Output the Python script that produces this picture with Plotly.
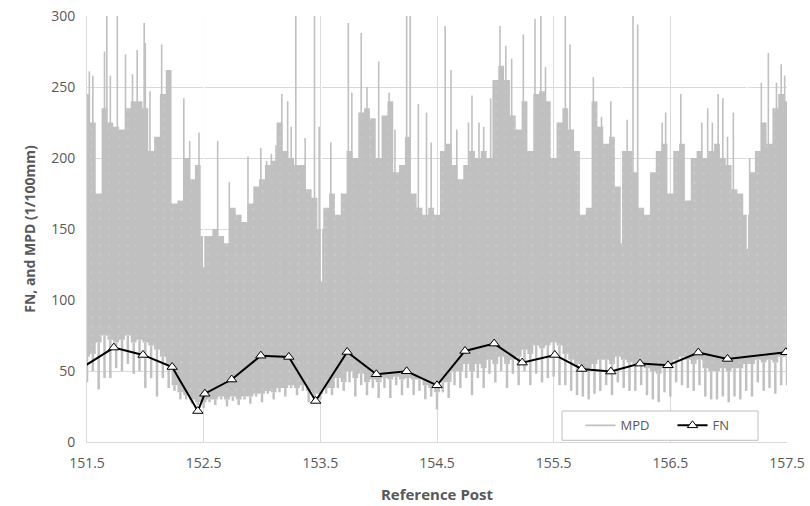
import numpy as np
import plotly.graph_objects as go

# Friction number (FN) readings along the route
FN_POST = [151.45, 151.73, 151.98, 152.23, 152.45, 152.51, 152.74, 152.99, 153.23, 153.46,
           153.73, 153.98, 154.24, 154.50, 154.74, 154.99, 155.23, 155.51, 155.74, 155.99,
           156.24, 156.48, 156.74, 156.99, 157.49]
FN_VALUE = [52, 66.5, 61.3, 52.8, 21.8, 34, 44, 60.8, 59.9, 28.9,
            63.4, 47.7, 49.8, 39.9, 64.1, 69.3, 55.9, 61.3, 51.4, 49.6,
            55.2, 54, 63, 58.5, 63.2]

# MPD profile summarised every 0.05 of a post
MPD_STEP = 0.05
# upper edge of the dense trace
MPD_TOP = [
    245, 225, 175, 235, 225, 222, 220, 235, 240, 240,
    235, 205, 215, 245, 262, 168, 170, 200, 185, 195,
    145, 145, 150, 145, 140, 165, 160, 155, 168, 180,
    185, 195, 198, 225, 205, 200, 195, 195, 178, 172,
    150, 165, 175, 160, 175, 205, 200, 232, 235, 228,
    200, 230, 240, 190, 195, 215, 175, 165, 160, 165,
    160, 205, 210, 195, 185, 195, 205, 200, 205, 200,
    255, 265, 255, 230, 220, 240, 205, 245, 247, 240,
    200, 225, 235, 220, 205, 160, 165, 240, 222, 210,
    215, 180, 205, 205, 190, 165, 160, 190, 205, 210,
    175, 205, 210, 170, 200, 205, 200, 205, 210, 200,
    195, 178, 175, 160, 190, 205, 225, 210, 235, 245,
    240,
]
# lower edge of the solid part of the trace
MPD_FLOOR = [
    60, 62, 70, 75, 72, 70, 72, 75, 70, 72,
    70, 68, 65, 60, 55, 40, 35, 33, 30, 28,
    28, 30, 30, 32, 30, 32, 30, 32, 32, 34,
    34, 36, 35, 38, 38, 40, 38, 40, 36, 34,
    34, 38, 38, 45, 42, 50, 45, 48, 42, 44,
    42, 45, 44, 46, 44, 45, 44, 44, 40, 38,
    35, 42, 42, 50, 50, 55, 50, 55, 52, 58,
    55, 60, 55, 58, 60, 65, 62, 68, 66, 68,
    70, 68, 62, 58, 55, 50, 52, 55, 58, 58,
    55, 60, 58, 56, 55, 55, 52, 50, 48, 52,
    52, 58, 60, 58, 55, 58, 52, 50, 50, 52,
    50, 52, 52, 55, 55, 58, 56, 58, 56, 60,
    60,
]
# lowest readings, hanging below the solid part
MPD_LOW = [
    42, 50, 37, 45, 45, 52, 50, 55, 48, 50,
    38, 45, 32, 45, 38, 36, 30, 30, 27, 26,
    24, 28, 26, 30, 25, 29, 26, 30, 27, 32,
    28, 34, 30, 35, 32, 38, 33, 36, 28, 30,
    30, 34, 33, 38, 36, 42, 32, 40, 33, 38,
    31, 38, 31, 40, 33, 38, 33, 36, 30, 32,
    23, 35, 31, 40, 38, 45, 33, 45, 38, 48,
    42, 50, 38, 48, 40, 50, 40, 48, 42, 45,
    46, 40, 40, 36, 33, 32, 30, 34, 36, 40,
    33, 42, 38, 36, 36, 40, 33, 30, 28, 35,
    32, 42, 40, 38, 36, 40, 32, 30, 30, 32,
    28, 32, 30, 36, 32, 42, 36, 38, 34, 40,
    40,
]
MPD_POST = np.round(151.5 + MPD_STEP * np.arange(len(MPD_TOP)), 2)

# Isolated MPD peaks rising above the dense trace
SPIKE_POST = [151.52, 151.55, 151.65, 151.67, 151.70, 151.76, 151.83, 151.89, 151.93, 151.99,
              152.00, 152.04, 152.14, 152.33, 152.38, 152.46, 152.62, 152.72, 152.88, 152.99,
              153.04, 153.08, 153.12, 153.17, 153.22, 153.25, 153.29, 153.37, 153.45, 153.49,
              153.59, 153.74, 153.77, 153.85, 153.90, 154.00, 154.09, 154.14, 154.24, 154.27,
              154.34, 154.41, 154.45, 154.57, 154.62, 154.67, 154.77, 154.80, 154.86, 154.90,
              154.96, 155.04, 155.09, 155.14, 155.24, 155.34, 155.39, 155.43, 155.60, 155.64,
              155.84, 155.91, 155.99, 156.13, 156.18, 156.22, 156.43, 156.46, 156.59, 156.77,
              156.82, 156.86, 156.91, 156.95, 156.99, 157.04, 157.18, 157.28, 157.34, 157.41,
              157.45, 157.48]
SPIKE_PEAK = [261, 258, 275, 300, 258, 300, 273, 259, 276, 295,
              281, 247, 280, 242, 212, 218, 212, 183, 201, 207,
              198, 203, 209, 245, 240, 222, 300, 214, 300, 222,
              211, 295, 246, 288, 250, 268, 246, 220, 300, 300,
              238, 232, 211, 293, 262, 220, 225, 244, 225, 222,
              242, 293, 279, 270, 287, 298, 300, 264, 300, 280,
              257, 229, 240, 227, 300, 294, 225, 232, 245, 225,
              235, 225, 245, 242, 215, 232, 200, 253, 274, 253,
              266, 258]
SPIKE_BASE = 100

# Narrow low readings cutting down into the dense trace
NOTCH_POST = [152.50, 153.51, 156.08, 157.16]
NOTCH_DEPTH = [123, 113, 140, 136]
NOTCH_TOP = 300


def segments(xs, lows, highs):
    """Vertical segments separated by gaps, for a single line trace."""
    sx, sy = [], []
    for x, lo, hi in zip(xs, lows, highs):
        sx += [x, x, None]
        sy += [lo, hi, None]
    return sx, sy


GRAY = "#c0c0c0"
TEXT = "#595959"
GRID = "#d9d9d9"
FONT = "Open Sans"

fig = go.Figure()

# solid body of the MPD trace
fig.add_trace(go.Scatter(
    x=MPD_POST, y=MPD_FLOOR, mode="lines", line=dict(width=0, shape="hvh", color=GRAY),
    showlegend=False, hoverinfo="skip"))
fig.add_trace(go.Scatter(
    x=MPD_POST, y=MPD_TOP, mode="lines", line=dict(width=0, shape="hvh", color=GRAY),
    fill="tonexty", fillcolor=GRAY,
    fillpattern=dict(shape=".", bgcolor=GRAY, fgcolor="#d0d0d0", size=9, solidity=0.08),
    showlegend=False, hoverinfo="skip"))

# low readings hanging under the body
lx, ly = segments(MPD_POST, MPD_LOW, MPD_FLOOR)
fig.add_trace(go.Scatter(
    x=lx, y=ly, mode="lines", line=dict(color=GRAY, width=2.5),
    showlegend=False, hoverinfo="skip"))

# isolated peaks (this trace also carries the legend entry)
sx, sy = segments(SPIKE_POST, [SPIKE_BASE] * len(SPIKE_POST), SPIKE_PEAK)
fig.add_trace(go.Scatter(
    x=sx, y=sy, mode="lines", name="MPD", line=dict(color=GRAY, width=1.6)))

nx, ny = segments(NOTCH_POST, NOTCH_DEPTH, [NOTCH_TOP] * len(NOTCH_POST))
fig.add_trace(go.Scatter(
    x=nx, y=ny, mode="lines", line=dict(color="white", width=1.2),
    showlegend=False, hoverinfo="skip"))

fig.add_trace(go.Scatter(
    x=FN_POST, y=FN_VALUE, mode="lines+markers", name="FN",
    line=dict(color="black", width=2),
    marker=dict(symbol="triangle-up", size=9, color="white",
                line=dict(color="black", width=1))))

TICKS_X = [151.5, 152.5, 153.5, 154.5, 155.5, 156.5, 157.5]
TICKS_Y = [0, 50, 100, 150, 200, 250, 300]

fig.update_layout(
    width=810, height=506,
    margin=dict(l=87, r=23, t=16, b=64, autoexpand=False),
    paper_bgcolor="white", plot_bgcolor="white",
    font=dict(family=FONT, size=14, color=TEXT),
    showlegend=True,
    legend=dict(orientation="h", x=0.705, xanchor="left", y=0.039, yanchor="middle",
                bgcolor="rgba(0,0,0,0)", borderwidth=0, traceorder="normal",
                font=dict(family=FONT, size=13, color=TEXT), entrywidth=47),
    # white legend panel with a thin grey frame
    shapes=[dict(type="rect", xref="paper", yref="paper",
                 x0=0.6786, x1=0.9586, y0=0.004, y1=0.0728,
                 fillcolor="white", line=dict(color="#bfbfbf", width=1), layer="above")],
    xaxis=dict(
        range=[151.5, 157.5], tickmode="array", tickvals=TICKS_X,
        ticktext=[f"{v:.1f}" for v in TICKS_X],
        showgrid=True, gridcolor=GRID, gridwidth=1,
        showline=True, linecolor=GRID, zeroline=False, ticks="",
        ticklabelstandoff=8,
        title=dict(text="<b>Reference Post</b>", font=dict(family=FONT, size=15, color=TEXT),
                   standoff=18)),
    yaxis=dict(
        range=[0, 300], tickmode="array", tickvals=TICKS_Y,
        showgrid=True, gridcolor=GRID, gridwidth=1,
        showline=True, linecolor=GRID, zeroline=False, ticks="",
        ticklabelstandoff=8,
        title=dict(text="<b>FN, and MPD (1/100mm)</b>", font=dict(family=FONT, size=14, color=TEXT),
                   standoff=12)),
)

fig.write_html("out.html")
